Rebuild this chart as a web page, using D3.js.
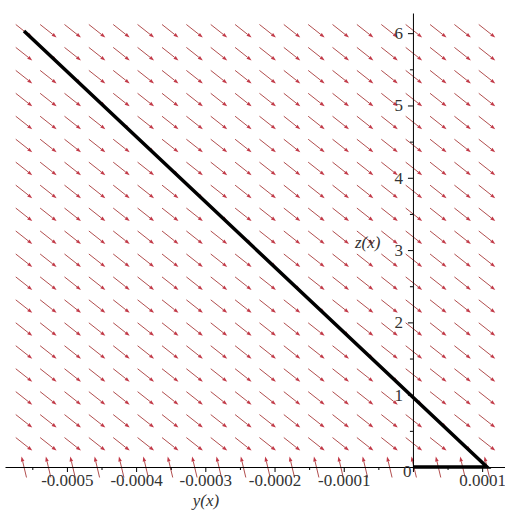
<!DOCTYPE html>
<html>
<head>
<meta charset="utf-8">
<script src="https://cdn.jsdelivr.net/npm/d3@7"></script>
<style>
body{margin:0;background:#fff;}
svg{display:block;}
.axis text{font-family:"Liberation Serif","Times New Roman",serif;font-size:17px;fill:#333;}
.axis path,.axis line{stroke:#000;stroke-width:1;}
.title{font-family:"Liberation Serif","Times New Roman",serif;font-size:17px;font-style:italic;fill:#333;}
</style>
</head>
<body>
<svg id="chart" width="505" height="513"></svg>
<script>
// grid of the direction field (y(x) across, z(x) up)
const yGrid = [-0.000562,-0.0005268,-0.0004916,-0.0004564,-0.0004212,-0.000386,-0.0003507,-0.0003155,-0.0002803,-0.0002451,
               -0.0002099,-0.0001747,-0.0001395,-0.0001043,-0.0000691,-0.0000338,0.0000014,0.0000366,0.0000718,0.000107];
const zGrid = [0,0.317,0.635,0.952,1.269,1.587,1.904,2.222,2.539,2.856,
               3.174,3.491,3.808,4.126,4.443,4.761,5.078,5.395,5.713,6.03];
// arrow vector [dy, dz] on the z=0 row and everywhere else
const fieldVecAxis = [-0.0000072, 0.29];
const fieldVec = [0.0000238, -0.18];

// solution curve
const curveY = [0, 0.000107, -0.000562];
const curveZ = [0, 0, 6.03];

const xTicks = [-0.0005,-0.0004,-0.0003,-0.0002,-0.0001,0,0.0001];
const xTickLabels = ["-0.0005","-0.0004","-0.0003","-0.0002","-0.0001","0","0.0001"];
const xMinor = [-0.00055,-0.00045,-0.00035,-0.00025,-0.00015,-0.00005,0.00005];
const zTicks = [1,2,3,4,5,6];
const zMinor = [0.5,1.5,2.5,3.5,4.5,5.5];

const svg = d3.select("#chart");
const x = d3.scaleLinear().domain([-0.000562, 0.000107]).range([24, 487]);
const y = d3.scaleLinear().domain([0, 6.03]).range([467, 31]);
const xAxisScale = x.copy().domain([x.invert(5), x.invert(505)]).range([5, 505]);
const yAxisScale = y.copy().domain([0, y.invert(13)]).range([467, 13]);

const drawField = () => {
	let field = svg.append("g").attr("class", "field");
	zGrid.forEach((zv, j) => {
		let v = j === 0 ? fieldVecAxis : fieldVec;
		yGrid.forEach((yv) => {
			let x0 = x(yv - v[0] / 2), y0 = y(zv - v[1] / 2);
			let x1 = x(yv + v[0] / 2), y1 = y(zv + v[1] / 2);
			let a = Math.atan2(y1 - y0, x1 - x0);
			let hl = 5, hw = 1.8;
			let bx = x1 - hl * Math.cos(a), by = y1 - hl * Math.sin(a);
			let px = -Math.sin(a) * hw, py = Math.cos(a) * hw;
			field.append("line")
				.attr("x1", x0).attr("y1", y0)
				.attr("x2", bx).attr("y2", by)
				.style("stroke", "#a83a3a")
				.style("stroke-width", 0.9);
			field.append("path")
				.attr("d", `M${x1},${y1}L${bx + px},${by + py}L${bx - px},${by - py}Z`)
				.style("fill", "#c23a48");
		});
	});
}

const drawAxes = () => {
	let xAxis = svg.append("g")
		.attr("class", "axis")
		.attr("transform", `translate(0,${y(0)})`)
		.call(d3.axisBottom(xAxisScale).tickValues(xTicks).tickSize(5).tickSizeOuter(0)
			.tickFormat((d, i) => xTickLabels[i]));
	xAxis.selectAll(".tick text")
		.attr("y", 19).attr("dy", 0)
		.filter((d) => d === 0)
		.attr("y", 10).attr("x", -2).style("text-anchor", "end");
	svg.append("g")
		.attr("class", "axis")
		.attr("transform", `translate(0,${y(0)})`)
		.call(d3.axisBottom(xAxisScale).tickValues(xMinor).tickSize(3).tickSizeOuter(0).tickFormat(""))
		.select(".domain").remove();

	svg.append("g")
		.attr("class", "axis")
		.attr("transform", `translate(${x(0)},0)`)
		.call(d3.axisLeft(yAxisScale).tickValues(zTicks).tickSize(5).tickSizeOuter(0).tickPadding(5)
			.tickFormat(d3.format("d")));
	svg.append("g")
		.attr("class", "axis")
		.attr("transform", `translate(${x(0)},0)`)
		.call(d3.axisLeft(yAxisScale).tickValues(zMinor).tickSize(3).tickSizeOuter(0).tickFormat(""))
		.select(".domain").remove();

	svg.append("text")
		.attr("class", "title")
		.attr("x", 206).attr("y", 506)
		.style("text-anchor", "middle")
		.text("y(x)");
	svg.append("text")
		.attr("class", "title")
		.attr("x", x(0) - 58).attr("y", y(3) - 2)
		.text("z(x)");
}

const drawCurve = () => {
	let pts = curveY.map((d, i) => [x(d), y(curveZ[i])]);
	svg.append("path")
		.attr("d", d3.line()(pts))
		.style("fill", "none")
		.style("stroke", "#000")
		.style("stroke-width", 3.5)
		.style("stroke-linejoin", "miter");
}

drawField();
drawAxes();
drawCurve();
</script>
</body>
</html>
